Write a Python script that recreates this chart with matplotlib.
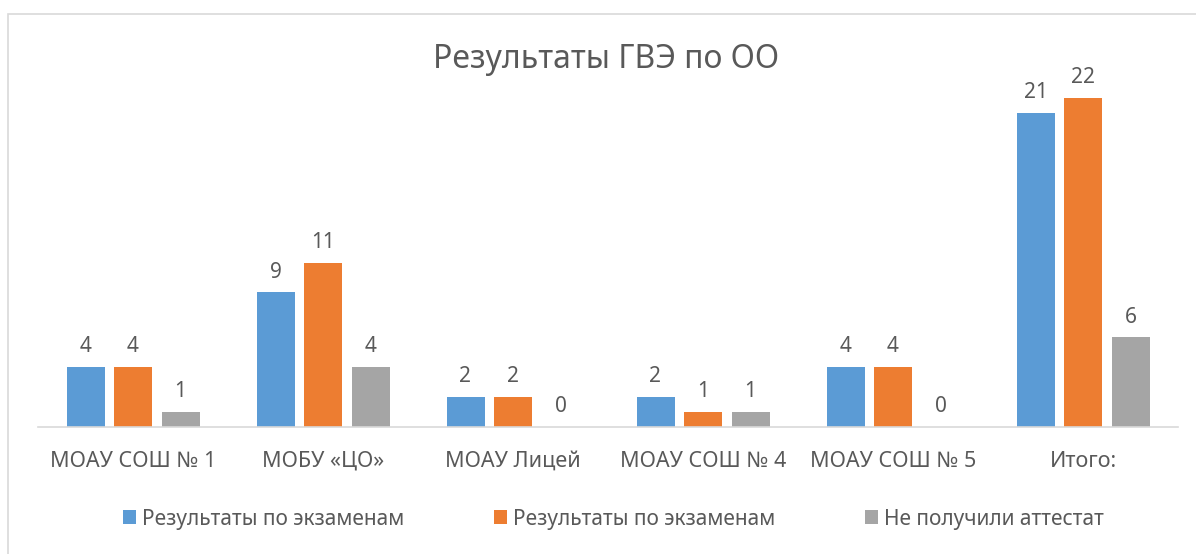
import matplotlib
matplotlib.use('Agg')
import matplotlib.pyplot as plt
from matplotlib.patches import Rectangle
import numpy as np

schools = ['МОАУ СОШ № 1', 'МОБУ «ЦО»', 'МОАУ Лицей', 'МОАУ СОШ № 4', 'МОАУ СОШ № 5', 'Итого:']
exam_results_1 = [4, 9, 2, 2, 4, 21]
exam_results_2 = [4, 11, 2, 1, 4, 22]
no_certificate = [1, 4, 0, 1, 0, 6]
series_names = ['Результаты по экзаменам', 'Результаты по экзаменам', 'Не получили аттестат']
colors = ['#5B9BD5', '#ED7D31', '#A5A5A5']
title = 'Результаты ГВЭ по ОО'

plt.rcParams['font.family'] = ['Noto Sans', 'DejaVu Sans']
text_color = '#595959'

fig = plt.figure(figsize=(11.96, 5.54), dpi=100)
W, H = 1196, 554

# light frame of the chart area (right and bottom edges run off the picture)
fig.patches.append(Rectangle((7.5 / W, -0.1), 1.5, 1.1 - 14.5 / H, transform=fig.transFigure,
                             fill=False, edgecolor='#D9D9D9', linewidth=1.2))

ax = fig.add_axes([38 / W, 1 - 427 / H, 1140 / W, 373.8 / H])

x = np.arange(len(schools))
width = 0.2
offsets = [-0.25, 0, 0.25]
bars = []
for vals, off, col, name in zip([exam_results_1, exam_results_2, no_certificate], offsets, colors, series_names):
    b = ax.bar(x + off, vals, width, color=col, label=name)
    ax.bar_label(b, padding=7, fontsize=15, color=text_color)
    bars.append(b)

ax.set_xlim(-0.5, len(schools) - 0.5)
ax.set_ylim(0, 25)
ax.set_xticks(x)
ax.set_xticklabels(schools, fontsize=15.5, color=text_color)
ax.tick_params(axis='x', length=0, pad=17)
ax.set_yticks([])
for s in ['top', 'right', 'left']:
    ax.spines[s].set_visible(False)
ax.spines['bottom'].set_color('#D9D9D9')
ax.spines['bottom'].set_linewidth(1.2)

fig.text(606 / W, 1 - 60 / H, title, fontsize=23, color=text_color, ha='center', va='center')

fig.legend(handles=bars, labels=series_names, loc='center', bbox_to_anchor=(613.5 / W, 1 - 519 / H),
           ncol=3, frameon=False, fontsize=15, handlelength=0.62, handleheight=0.62,
           handletextpad=0.3, columnspacing=4.3, labelcolor=text_color)

fig.savefig('out.png', dpi=100)
